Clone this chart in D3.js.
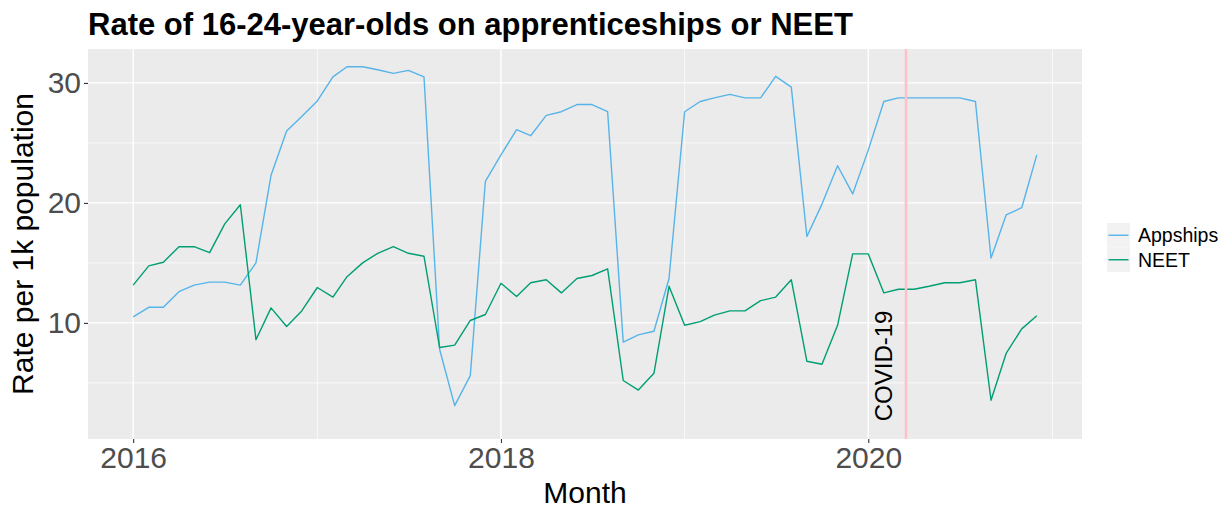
<!DOCTYPE html>
<html>
<head>
<meta charset="utf-8">
<script src="https://cdn.jsdelivr.net/npm/d3@7"></script>
<style>
body { margin: 0; background: #fff; }
svg { display: block; font-family: "Liberation Sans", Arial, sans-serif; }
</style>
</head>
<body>
<svg width="1229" height="509"></svg>
<script>
// monthly rates per 1k population, Jan 2016 - Dec 2020
var appships = [10.5, 11.3, 11.3, 12.6, 13.15, 13.4, 13.4, 13.15, 15.0, 22.3,
    26.0, 27.2, 28.5, 30.5, 31.35, 31.35, 31.1, 30.8, 31.05, 30.5,
    7.8, 3.1, 5.6, 21.8, 24.0, 26.1, 25.6, 27.3, 27.6, 28.2,
    28.2, 27.6, 8.4, 9.0, 9.3, 13.7, 27.6, 28.45, 28.75, 29.05,
    28.75, 28.75, 30.55, 29.65, 17.2, 19.9, 23.1, 20.75, 24.4, 28.45,
    28.75, 28.75, 28.75, 28.75, 28.75, 28.45, 15.4, 19.0, 19.6, 24.0];
var neet = [13.15, 14.75, 15.05, 16.35, 16.35, 15.85, 18.25, 19.85, 8.6, 11.25,
    9.7, 11.0, 12.95, 12.15, 13.85, 15.0, 15.8, 16.35, 15.8, 15.55,
    7.95, 8.15, 10.2, 10.7, 13.3, 12.2, 13.35, 13.6, 12.5, 13.7,
    13.95, 14.5, 5.2, 4.4, 5.8, 13.05, 9.8, 10.1, 10.65, 11.0,
    11.0, 11.85, 12.15, 13.6, 6.8, 6.55, 9.8, 15.75, 15.75, 12.5,
    12.8, 12.8, 13.05, 13.35, 13.35, 13.6, 3.55, 7.45, 9.5, 10.6];
var months = d3.timeMonth.range(new Date(2016, 0, 1), new Date(2021, 0, 1));
var seriesNames = ["Appships", "NEET"];
var seriesColors = ["#56B4E9", "#009E73"];
var yearTicks = [2016, 2018, 2020];
var yearMinor = [2017, 2019, 2021];
var yTicks = [10, 20, 30];
var yMinor = [5, 15, 25];
var covidDate = new Date(2020, 2, 16);
var covidLabelDate = new Date(2020, 1, 1);
var covidLabelY = 1.8;

var svg = d3.select("svg");
var panel = {left: 88, right: 1082, top: 49, bottom: 439};

// ggplot-style 5% expansion
var tExt = d3.extent(months);
var tPad = (tExt[1] - tExt[0]) * 0.05;
var x = d3.scaleTime()
    .domain([new Date(+tExt[0] - tPad), new Date(+tExt[1] + tPad)])
    .range([panel.left, panel.right]);

var yExt = d3.extent(appships.concat(neet, [covidLabelY]));
var yPad = (yExt[1] - yExt[0]) * 0.05;
var y = d3.scaleLinear()
    .domain([yExt[0] - yPad, yExt[1] + yPad])
    .range([panel.bottom, panel.top]);

function yr(v) { return new Date(v, 0, 1); }

svg.append("rect")
    .attr("x", panel.left).attr("y", panel.top)
    .attr("width", panel.right - panel.left)
    .attr("height", panel.bottom - panel.top)
    .attr("fill", "#EBEBEB");

var grid = svg.append("g").attr("stroke", "#fff");
grid.selectAll(".ymin").data(yMinor).enter().append("line")
    .attr("x1", panel.left).attr("x2", panel.right)
    .attr("y1", d => y(d)).attr("y2", d => y(d))
    .attr("stroke-width", 0.7);
grid.selectAll(".xmin").data(yearMinor.filter(d => x(yr(d)) < panel.right)).enter().append("line")
    .attr("y1", panel.top).attr("y2", panel.bottom)
    .attr("x1", d => x(yr(d))).attr("x2", d => x(yr(d)))
    .attr("stroke-width", 0.7);
grid.selectAll(".ymaj").data(yTicks).enter().append("line")
    .attr("x1", panel.left).attr("x2", panel.right)
    .attr("y1", d => y(d)).attr("y2", d => y(d))
    .attr("stroke-width", 1.4);
grid.selectAll(".xmaj").data(yearTicks).enter().append("line")
    .attr("y1", panel.top).attr("y2", panel.bottom)
    .attr("x1", d => x(yr(d))).attr("x2", d => x(yr(d)))
    .attr("stroke-width", 1.4);

// series lines
var line = d3.line().x((d, i) => x(months[i])).y(d => y(d));
[appships, neet].forEach(function(vals, k) {
    svg.append("path")
        .datum(vals)
        .attr("d", line)
        .attr("fill", "none")
        .attr("stroke", seriesColors[k])
        .attr("stroke-width", 1.4)
        .attr("stroke-linejoin", "round");
});

// covid marker
svg.append("line")
    .attr("x1", x(covidDate)).attr("x2", x(covidDate))
    .attr("y1", panel.top).attr("y2", panel.bottom)
    .attr("stroke", "#FFC0CB").attr("stroke-width", 2.6);
svg.append("text")
    .attr("transform", "translate(" + x(covidLabelDate) + "," + y(covidLabelY) + ") rotate(-90)")
    .attr("dy", "0.35em")
    .attr("font-size", 24)
    .attr("fill", "#000")
    .text("COVID-19");

// axes
var xAxis = d3.axisBottom(x)
    .tickValues(yearTicks.map(yr))
    .tickFormat(d3.timeFormat("%Y"))
    .tickSize(4).tickPadding(4);
var gx = svg.append("g").attr("transform", "translate(0," + panel.bottom + ")").call(xAxis);
var yAxis = d3.axisLeft(y).tickValues(yTicks).tickSize(4).tickPadding(3);
var gy = svg.append("g").attr("transform", "translate(" + panel.left + ",0)").call(yAxis);
[gx, gy].forEach(function(g) {
    g.select(".domain").remove();
    g.selectAll(".tick line").attr("stroke", "#333333").attr("stroke-width", 1.1);
    g.selectAll(".tick text").attr("fill", "#4D4D4D").attr("font-size", 30)
        .attr("font-family", "Liberation Sans, Arial, sans-serif");
});

svg.append("text")
    .attr("x", panel.left).attr("y", 35)
    .attr("font-size", 31).attr("font-weight", "bold")
    .text("Rate of 16-24-year-olds on apprenticeships or NEET");

svg.append("text")
    .attr("x", (panel.left + panel.right) / 2).attr("y", 503)
    .attr("text-anchor", "middle").attr("font-size", 30)
    .text("Month");

svg.append("text")
    .attr("transform", "translate(33," + (panel.top + panel.bottom) / 2 + ") rotate(-90)")
    .attr("text-anchor", "middle").attr("font-size", 30)
    .text("Rate per 1k population");

// legend
var leg = svg.append("g").attr("transform", "translate(1107,223)");
seriesNames.forEach(function(name, k) {
    var row = leg.append("g").attr("transform", "translate(0," + k * 24.5 + ")");
    row.append("rect").attr("width", 23).attr("height", 24.5).attr("fill", "#F2F2F2");
    row.append("line").attr("x1", 1.5).attr("x2", 21.5)
        .attr("y1", 12.25).attr("y2", 12.25)
        .attr("stroke", seriesColors[k]).attr("stroke-width", 1.4);
    row.append("text").attr("x", 31).attr("y", 12.25).attr("dy", "0.35em")
        .attr("font-size", 19.5).text(name);
});
</script>
</body>
</html>
